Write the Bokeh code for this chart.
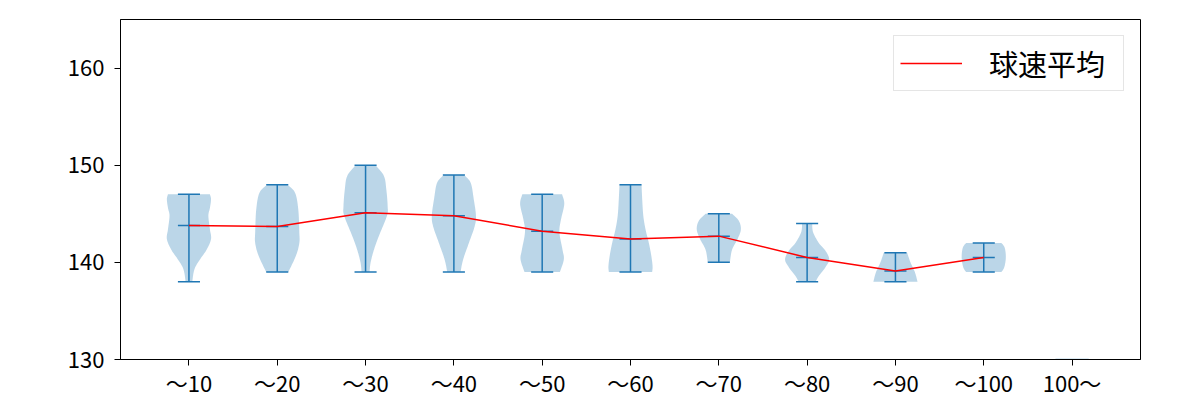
import numpy as np
from bokeh.plotting import figure
from bokeh.models import FixedTicker, Legend, LegendItem, ColumnDataSource
from bokeh.embed import file_html
from bokeh.resources import INLINE

categories = ["～10", "～20", "～30", "～40", "～50", "～60", "～70", "～80", "～90", "～100", "100～"]
mean_speed = [143.8, 143.7, 145.1, 144.8, 143.2, 142.4, 142.7, 140.5, 139.1, 140.5]
min_speed = [138, 139, 139, 139, 139, 139, 140, 138, 138, 139]
max_speed = [147, 148, 150, 149, 147, 148, 145, 144, 141, 142]

# density outline of each violin: speed levels (top to bottom) and relative half-widths
density_levels = [
    [147.0, 146.5, 145.6, 144.8, 143.4, 142.4, 141.3, 140.3, 139.3, 138.0],
    [148.0, 147.2, 145.5, 143.1, 142.0, 140.7, 139.0],
    [150.0, 148.9, 147.5, 145.8, 144.8, 142.7, 141.3, 140.0, 139.0],
    [149.0, 148.2, 146.5, 144.8, 143.7, 142.0, 140.3, 139.0],
    [147.0, 146.0, 144.4, 143.1, 141.3, 140.3, 139.0],
    [148.0, 146.5, 144.8, 143.4, 142.0, 140.7, 139.6, 139.0],
    [145.0, 144.3, 143.4, 142.4, 141.3, 140.0],
    [144.0, 143.1, 142.0, 141.2, 140.3, 139.5, 138.6, 138.0],
    [141.0, 140.0, 139.0, 138.0],
    [142.0, 141.5, 140.5, 139.5, 139.0],
    [130.1, 129.5],
]
density_widths = [
    [0.95, 1.0, 0.95, 0.88, 0.95, 1.0, 0.8, 0.5, 0.25, 0.15],
    [0.45, 0.8, 0.95, 1.0, 1.0, 0.85, 0.5],
    [0.45, 0.83, 0.94, 1.0, 0.97, 0.6, 0.38, 0.23, 0.18],
    [0.45, 0.76, 0.9, 1.0, 0.94, 0.68, 0.42, 0.3],
    [0.9, 1.0, 0.85, 0.78, 0.92, 0.98, 0.8],
    [0.5, 0.53, 0.58, 0.68, 0.83, 0.94, 1.0, 0.98],
    [0.6, 0.9, 1.0, 0.85, 0.6, 0.5],
    [0.23, 0.27, 0.53, 0.83, 1.0, 0.83, 0.53, 0.38],
    [0.53, 0.68, 0.88, 1.0],
    [0.8, 0.95, 1.0, 0.93, 0.8],
    [0.75, 0.8],
]

BLUE = "#1f77b4"
FONT = "Noto Sans CJK JP"


def smooth(ys, ws, n=12):
    ys = np.asarray(ys, float)
    ws = np.asarray(ws, float)
    if len(ys) < 3:
        return ys, ws
    P = np.column_stack([ys, ws])
    P = np.vstack([P[0], P, P[-1]])
    out = []
    for i in range(1, len(P) - 2):
        p0, p1, p2, p3 = P[i - 1], P[i], P[i + 1], P[i + 2]
        for t in np.linspace(0, 1, n, endpoint=False):
            t2, t3 = t * t, t * t * t
            out.append(0.5 * ((2 * p1) + (-p0 + p2) * t + (2 * p0 - 5 * p1 + 4 * p2 - p3) * t2
                              + (-p0 + 3 * p1 - 3 * p2 + p3) * t3))
    out.append(P[-2])
    out = np.array(out)
    return out[:, 0], out[:, 1]


p = figure(width=1200, height=400, x_range=(0.225, 11.775), y_range=(130, 165),
           output_backend="svg", toolbar_location=None,
           min_border_left=120, min_border_right=60, min_border_top=19, min_border_bottom=40)
p.grid.visible = False
p.outline_line_color = "black"
p.outline_line_width = 1
p.background_fill_color = "white"

half = 0.25
for i, (lv, wd) in enumerate(zip(density_levels, density_widths)):
    pos = i + 1
    ys, ws = smooth(lv, wd)
    xs = np.concatenate([pos + ws * half, (pos - ws * half)[::-1]])
    yy = np.concatenate([ys, ys[::-1]])
    p.patch(xs, yy, fill_color=BLUE, fill_alpha=0.3, line_color=None)

n = len(mean_speed)
pos = np.arange(1, n + 1)
src = ColumnDataSource(dict(x=pos, x0=pos - 0.125, x1=pos + 0.125,
                            lo=min_speed, hi=max_speed, mean=mean_speed))
p.segment(x0="x", y0="lo", x1="x", y1="hi", source=src, line_color=BLUE, line_width=1.5)
p.segment(x0="x0", y0="lo", x1="x1", y1="lo", source=src, line_color=BLUE, line_width=1.5)
p.segment(x0="x0", y0="hi", x1="x1", y1="hi", source=src, line_color=BLUE, line_width=1.5)
p.segment(x0="x0", y0="mean", x1="x1", y1="mean", source=src, line_color=BLUE, line_width=1.5)

mean_line = p.line(x="x", y="mean", source=src, line_color="red", line_width=1.5)

p.xaxis.ticker = FixedTicker(ticks=list(range(1, len(categories) + 1)))
p.xaxis.major_label_overrides = {i + 1: c for i, c in enumerate(categories)}
p.yaxis.ticker = FixedTicker(ticks=[130, 140, 150, 160])
for ax in (p.xaxis[0], p.yaxis[0]):
    ax.minor_tick_line_color = None
    ax.major_tick_out = 6
    ax.major_tick_in = 0
    ax.major_label_text_font = FONT
    ax.major_label_text_font_size = "22px"
    ax.major_label_text_line_height = 1.0
    ax.major_label_text_color = "black"
    ax.axis_line_color = "black"
    ax.major_tick_line_color = "black"
p.xaxis.major_label_standoff = 0
p.yaxis.major_label_standoff = 10

legend = Legend(items=[LegendItem(label="球速平均", renderers=[mean_line])],
                location="top_right", margin=16, padding=6, spacing=0,
                glyph_width=62, glyph_height=20, label_standoff=27,
                label_width=128,
                label_text_font=FONT, label_text_font_size="29px",
                label_text_line_height=1.0, label_text_color="black",
                border_line_color="#cccccc", border_line_width=1,
                background_fill_alpha=0.8)
p.add_layout(legend)

open("out.html", "w").write(file_html(p, INLINE))
